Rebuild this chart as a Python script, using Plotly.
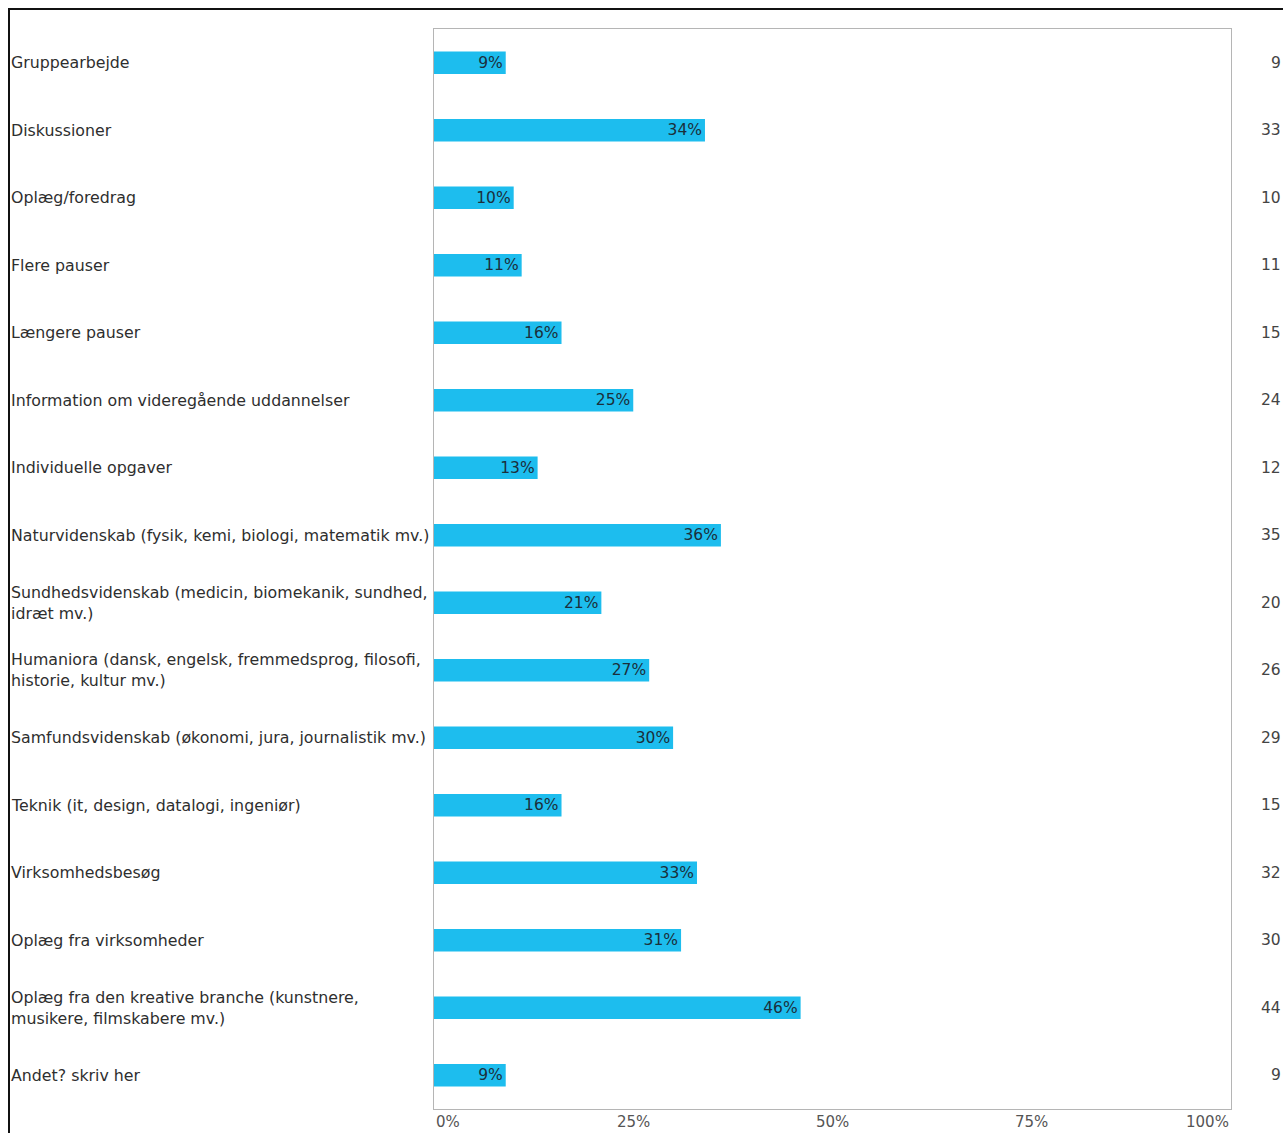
import plotly.graph_objects as go

categories = [
    "Gruppearbejde",
    "Diskussioner",
    "Oplæg/foredrag",
    "Flere pauser",
    "Længere pauser",
    "Information om videregående uddannelser",
    "Individuelle opgaver",
    "Naturvidenskab (fysik, kemi, biologi, matematik mv.)",
    "Sundhedsvidenskab (medicin, biomekanik, sundhed,<br>idræt mv.)",
    "Humaniora (dansk, engelsk, fremmedsprog, filosofi,<br>historie, kultur mv.)",
    "Samfundsvidenskab (økonomi, jura, journalistik mv.)",
    "Teknik (it, design, datalogi, ingeniør)",
    "Virksomhedsbesøg",
    "Oplæg fra virksomheder",
    "Oplæg fra den kreative branche (kunstnere,<br>musikere, filmskabere mv.)",
    "Andet? skriv her",
]
percent_values = [9, 34, 10, 11, 16, 25, 13, 36, 21, 27, 30, 16, 33, 31, 46, 9]
counts = [9, 33, 10, 11, 15, 24, 12, 35, 20, 26, 29, 15, 32, 30, 44, 9]
tick_values = [0, 25, 50, 75, 100]
tick_labels = ["0%", "25%", "50%", "75%", "100%"]

W, H = 1283, 1133
L, R, T, B = 434, 52, 29, 24
pw = W - L - R
ph = H - T - B
FS = 15.5

def px_to_paper_x(px):
    return (px - L) / pw

def px_to_paper_y(py):
    return 1 - (py - T) / ph

ids = list(range(len(categories)))

fig = go.Figure()
fig.add_trace(go.Bar(
    y=ids,
    x=percent_values,
    orientation="h",
    width=0.33,
    marker=dict(color="#1DBDEE", line=dict(width=0)),
    text=[f"{v}%" for v in percent_values],
    textposition="inside",
    insidetextanchor="end",
    textangle=0,
    textfont=dict(family="DejaVu Sans", size=FS, color="#1b2f3b"),
    constraintext="none",
    hoverinfo="skip",
))

annotations = []
for i, (cat, c) in enumerate(zip(categories, counts)):
    annotations.append(dict(
        x=px_to_paper_x(9), xref="paper", y=i, yref="y",
        text=cat, showarrow=False, xanchor="left", yanchor="middle", align="left",
        font=dict(family="DejaVu Sans", size=15.8, color="#2e2e2e"),
    ))
    annotations.append(dict(
        x=px_to_paper_x(1283), xref="paper", y=i, yref="y",
        text=str(c), showarrow=False, xanchor="right", yanchor="middle",
        font=dict(family="DejaVu Sans", size=FS, color="#444444"),
    ))

anchors = ["left", "center", "center", "center", "right"]
for tv, tl, an in zip(tick_values, tick_labels, anchors):
    annotations.append(dict(
        x=tv, xref="x", y=0, yref="paper", yshift=-B,
        text=tl, showarrow=False, xanchor=an, yanchor="bottom",
        font=dict(family="DejaVu Sans", size=15, color="#555555"),
    ))

shapes = [
    dict(type="line", xref="paper", yref="paper",
         x0=px_to_paper_x(9), x1=px_to_paper_x(9),
         y0=px_to_paper_y(8), y1=px_to_paper_y(1140),
         line=dict(color="#111111", width=2)),
    dict(type="line", xref="paper", yref="paper",
         x0=px_to_paper_x(8), x1=px_to_paper_x(1290),
         y0=px_to_paper_y(9), y1=px_to_paper_y(9),
         line=dict(color="#111111", width=2)),
]

fig.update_layout(
    width=W, height=H,
    margin=dict(l=L, r=R, t=T, b=B, pad=0),
    paper_bgcolor="white", plot_bgcolor="white",
    showlegend=False,
    bargap=0.67,
    annotations=annotations,
    shapes=shapes,
    xaxis=dict(range=[0, 100], showgrid=False, zeroline=False, showticklabels=False,
               ticks="", showline=True, linecolor="#b5b5b5", linewidth=1, mirror=True,
               fixedrange=True),
    yaxis=dict(range=[len(categories) - 0.5, -0.5], showgrid=False, zeroline=False,
               showticklabels=False, ticks="", showline=True, linecolor="#b5b5b5",
               linewidth=1, mirror=True, fixedrange=True),
    uniformtext=dict(mode=False),
)

fig.write_html(
    "out.html",
    config={"displayModeBar": False},
    post_script="document.body.style.margin='0px';document.body.style.overflow='hidden';",
)
